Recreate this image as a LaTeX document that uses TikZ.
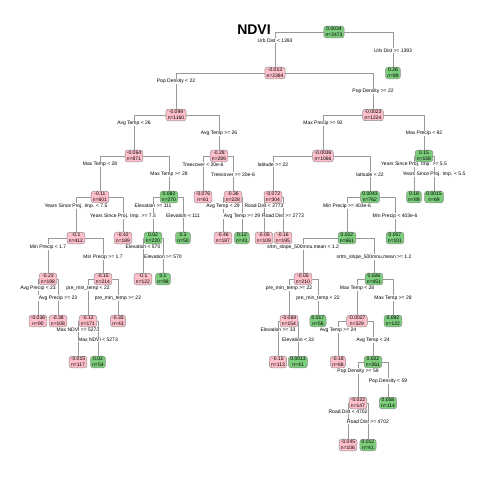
\documentclass[tikz,border=0pt]{standalone}
\usepackage{fontspec}
\setmainfont{Liberation Sans}
\usepackage{tikz}
\usepackage{xcolor}

\definecolor{negpink}{RGB}{255,192,203}
\definecolor{posgreen}{RGB}{124,205,124}

\begin{document}
\begin{tikzpicture}[x=1pt, y=-1pt,
  box/.style={rectangle, rounded corners=2.5pt, draw=black!45, line width=0.5pt,
    align=center, inner xsep=1.8pt, inner ysep=1.2pt,
    font=\fontsize{5pt}{5.6pt}\selectfont},
  negbox/.style={box, fill=negpink},
  posbox/.style={box, fill=posgreen},
  branch/.style={draw=black!40, line width=0.7pt},
  lbl/.style={fill=white, inner sep=0.4pt, font=\fontsize{5pt}{5.6pt}\selectfont}]
  \useasboundingbox (0,0) rectangle (480,480);

  % Title
  \node[font=\fontsize{14pt}{16pt}\selectfont\bfseries] (title) at (254,30) {NDVI};

  % Tree nodes, numbered as rpart numbers them
  \node[posbox] (n1) at (334,32) {0.0034\\n=2473};
  \node[negbox] (n2) at (275,73) {-0.013\\n=2384};
  \node[posbox] (n3) at (393,73) {0.26\\n=89};
  \node[negbox] (n4) at (176,115) {-0.099\\n=1160};
  \node[negbox] (n5) at (373,115) {-0.0023\\n=1224};
  \node[negbox] (n8) at (134,156) {-0.064\\n=871};
  \node[negbox] (n9) at (219,156) {-0.28\\n=289};
  \node[negbox] (n10) at (323,156) {-0.0036\\n=1066};
  \node[posbox] (n11) at (424,156) {0.15\\n=158};
  \node[negbox] (n16) at (100,197) {-0.11\\n=601};
  \node[posbox] (n17) at (169,197) {0.083\\n=270};
  \node[negbox] (n18) at (203,197) {-0.076\\n=61};
  \node[negbox] (n19) at (233,197) {-0.36\\n=228};
  \node[negbox] (n20) at (273,197) {-0.072\\n=304};
  \node[posbox] (n21) at (370,197) {0.0043\\n=762};
  \node[posbox] (n22) at (414,197) {0.18\\n=89};
  \node[posbox] (n23) at (434,197) {0.0015\\n=69};
  \node[negbox] (n32) at (76,238) {-0.1\\n=412};
  \node[negbox] (n33) at (123,238) {-0.42\\n=189};
  \node[posbox] (n34) at (153,238) {0.02\\n=220};
  \node[posbox] (n35) at (183,238) {0.3\\n=50};
  \node[negbox] (n38) at (223,238) {-0.46\\n=187};
  \node[posbox] (n39) at (242,238) {0.12\\n=41};
  \node[negbox] (n40) at (264,238) {-0.05\\n=109};
  \node[negbox] (n41) at (283,238) {-0.16\\n=195};
  \node[posbox] (n42) at (347,238) {0.022\\n=661};
  \node[posbox] (n43) at (395,238) {0.057\\n=101};
  \node[negbox] (n64) at (48,279) {-0.23\\n=198};
  \node[negbox] (n65) at (103,279) {-0.15\\n=214};
  \node[negbox] (n68) at (143,279) {-0.1\\n=122};
  \node[posbox] (n69) at (163,279) {0.1\\n=98};
  \node[negbox] (n84) at (303,279) {-0.05\\n=210};
  \node[posbox] (n85) at (374,279) {0.026\\n=451};
  \node[negbox] (n128) at (38,321) {-0.036\\n=90};
  \node[negbox] (n129) at (58,321) {-0.38\\n=108};
  \node[negbox] (n130) at (88,321) {-0.12\\n=171};
  \node[negbox] (n131) at (118,321) {-0.35\\n=43};
  \node[negbox] (n168) at (289,321) {-0.069\\n=154};
  \node[posbox] (n169) at (318,321) {0.017\\n=56};
  \node[negbox] (n170) at (357,321) {-0.0027\\n=329};
  \node[posbox] (n171) at (393,321) {0.092\\n=122};
  \node[negbox] (n260) at (78,362) {-0.015\\n=117};
  \node[posbox] (n261) at (98,362) {0.02\\n=54};
  \node[negbox] (n336) at (278,362) {-0.15\\n=113};
  \node[posbox] (n337) at (298,362) {0.0013\\n=41};
  \node[negbox] (n340) at (338,362) {-0.18\\n=68};
  \node[posbox] (n341) at (373,362) {0.022\\n=261};
  \node[negbox] (n682) at (358,403) {-0.022\\n=147};
  \node[posbox] (n683) at (388,403) {0.058\\n=114};
  \node[negbox] (n1364) at (348,445) {-0.045\\n=106};
  \node[posbox] (n1365) at (368,445) {0.012\\n=41};

  % Branches
  \foreach \p/\c in {1/2,1/3,2/4,2/5,4/8,4/9,5/10,5/11,8/16,8/17,9/18,9/19,
      10/20,10/21,11/22,11/23,16/32,16/33,17/34,17/35,19/38,19/39,20/40,20/41,
      21/42,21/43,32/64,32/65,34/68,34/69,42/84,42/85,64/128,64/129,65/130,
      65/131,84/168,84/169,85/170,85/171,130/260,130/261,168/336,168/337,
      170/340,170/341,341/682,341/683,682/1364,682/1365}
    \draw[branch] (n\p) -| (n\c);

  % Split labels
  \node[lbl] (s2) at (275,40.5) {Urb Dist < 1393};
  \node[lbl] (s3) at (393,50.5) {Urb Dist >= 1393};
  \node[lbl] (s4) at (176,81.5) {Pop Density < 22};
  \node[lbl] (s5) at (373,91.5) {Pop Density >= 22};
  \node[lbl] (s8) at (134,123.5) {Avg Temp < 26};
  \node[lbl] (s9) at (219,133.5) {Avg Temp >= 26};
  \node[lbl] (s10) at (323,123.5) {Max Precip >= 92};
  \node[lbl] (s11) at (424,133.5) {Max Precip < 92};
  \node[lbl] (s16) at (100,164.5) {Max Temp < 28};
  \node[lbl] (s17) at (169,174.5) {Max Temp >= 28};
  \node[lbl] (s18) at (203,164.5) {Treecover < 20e-6};
  \node[lbl] (s19) at (233,174.5) {Treecover >= 20e-6};
  \node[lbl] (s20) at (273,164.5) {latitude >= 22};
  \node[lbl] (s21) at (370,174.5) {latitude < 22};
  \node[lbl] (s22) at (414,164.5) {Years Since Proj. Imp. >= 5.5};
  \node[lbl] (s23) at (434,174.5) {Years Since Proj. Imp. < 5.5};
  \node[lbl] (s32) at (76,206) {Years Since Proj. Imp. < 7.5};
  \node[lbl] (s33) at (123,216) {Years Since Proj. Imp. >= 7.5};
  \node[lbl] (s34) at (153,206) {Elevation >= 111};
  \node[lbl] (s35) at (183,216) {Elevation < 111};
  \node[lbl] (s38) at (223,206) {Avg Temp < 29};
  \node[lbl] (s39) at (242,216) {Avg Temp >= 29};
  \node[lbl] (s40) at (264,206) {Road Dist < 2773};
  \node[lbl] (s41) at (283,216) {Road Dist >= 2773};
  \node[lbl] (s42) at (347,206) {Min Precip >= 403e-6};
  \node[lbl] (s43) at (395,216) {Min Precip < 403e-6};
  \node[lbl] (s64) at (48,247) {Min Precip < 1.7};
  \node[lbl] (s65) at (103,257) {Min Precip >= 1.7};
  \node[lbl] (s68) at (143,247) {Elevation < 570};
  \node[lbl] (s69) at (163,257) {Elevation >= 570};
  \node[lbl] (s84) at (303,247) {srtm\_slope\_500mnu.mean < 1.2};
  \node[lbl] (s85) at (374,257) {srtm\_slope\_500mnu.mean >= 1.2};
  \node[lbl] (s128) at (38,288) {Avg Precip < 23};
  \node[lbl] (s129) at (58,298) {Avg Precip >= 23};
  \node[lbl] (s130) at (88,288) {pre\_min\_temp < 22};
  \node[lbl] (s131) at (118,298) {pre\_min\_temp >= 22};
  \node[lbl] (s168) at (289,288) {pre\_min\_temp >= 22};
  \node[lbl] (s169) at (318,298) {pre\_min\_temp < 22};
  \node[lbl] (s170) at (357,288) {Max Temp < 28};
  \node[lbl] (s171) at (393,298) {Max Temp >= 28};
  \node[lbl] (s260) at (78,330) {Max NDVI >= 5273};
  \node[lbl] (s261) at (98,340) {Max NDVI < 5273};
  \node[lbl] (s336) at (278,330) {Elevation >= 33};
  \node[lbl] (s337) at (298,340) {Elevation < 33};
  \node[lbl] (s340) at (338,330) {Avg Temp >= 24};
  \node[lbl] (s341) at (373,340) {Avg Temp < 24};
  \node[lbl] (s682) at (358,371) {Pop Density >= 59};
  \node[lbl] (s683) at (388,381) {Pop Density < 59};
  \node[lbl] (s1364) at (348,412) {Road Dist < 4702};
  \node[lbl] (s1365) at (368,422) {Road Dist >= 4702};
\end{tikzpicture}
\end{document}
